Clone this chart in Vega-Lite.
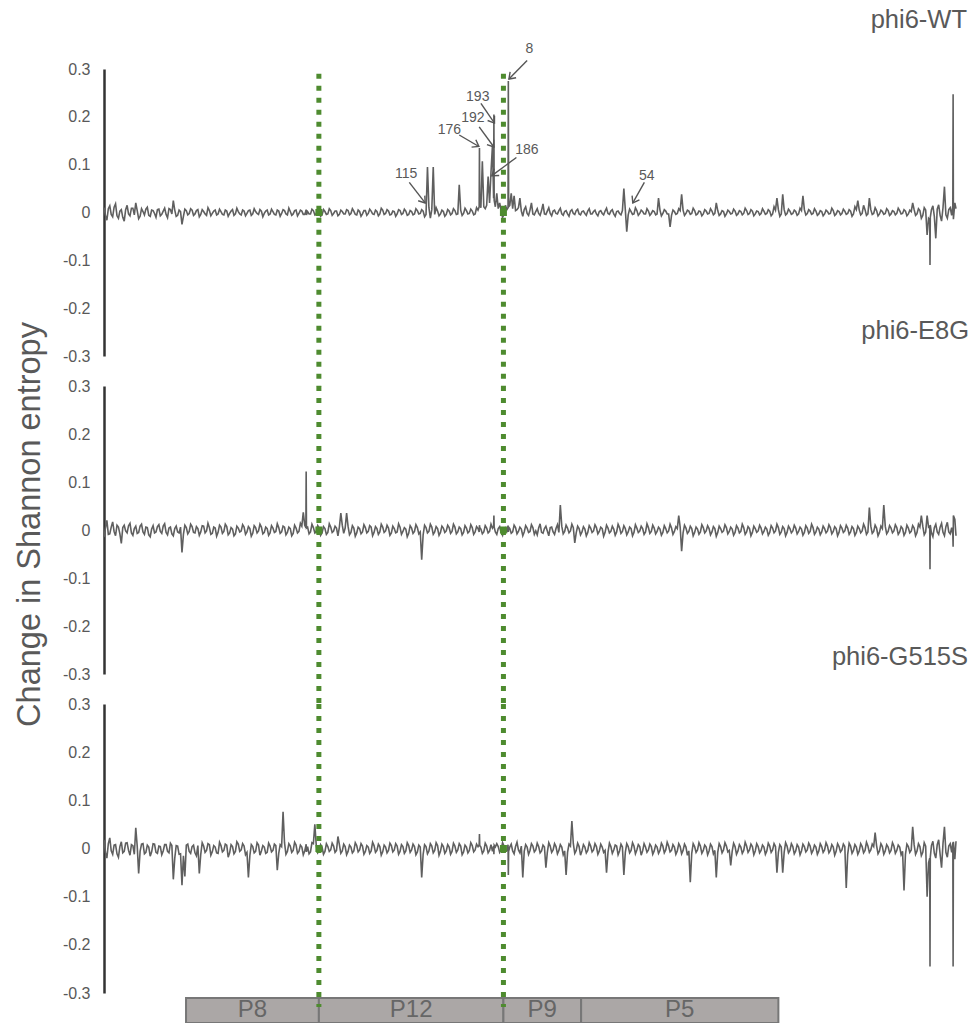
{
"$schema": "https://vega.github.io/schema/vega-lite/v6.json",
"padding": {"left": 13, "top": 8, "right": 5, "bottom": 5},
"background": "white",
"config": {"view": {"stroke": null}, "font": "Liberation Sans"},
"bounds": "flush",
"spacing": 30,
"datasets": {
"s": [
{"x":0,"a":0.010,"b":-0.015,"c":0.018},
{"x":10,"a":-0.016,"b":0.020,"c":-0.020},
{"x":20,"a":0.014,"b":-0.008,"c":0.022},
{"x":30,"a":-0.009,"b":0.017,"c":-0.012},
{"x":40,"a":0.018,"b":-0.012,"c":0.008},
{"x":50,"a":-0.012,"b":0.006,"c":-0.018},
{"x":60,"a":0.006,"b":-0.028,"c":0.014},
{"x":70,"a":-0.018,"b":0.010,"c":-0.006},
{"x":80,"a":0.015,"b":-0.006,"c":0.012},
{"x":90,"a":-0.007,"b":0.014,"c":-0.014},
{"x":100,"a":0.009,"b":-0.011,"c":0.006},
{"x":110,"a":0.020,"b":0.008,"c":0.043},
{"x":120,"a":-0.013,"b":-0.005,"c":-0.052},
{"x":130,"a":0.008,"b":0.012,"c":0.009},
{"x":140,"a":-0.005,"b":-0.009,"c":-0.011},
{"x":150,"a":0.011,"b":0.005,"c":0.007},
{"x":160,"a":-0.008,"b":-0.014,"c":-0.016},
{"x":170,"a":0.004,"b":0.009,"c":0.010},
{"x":180,"a":-0.010,"b":-0.004,"c":-0.008},
{"x":190,"a":0.007,"b":0.011,"c":0.005},
{"x":200,"a":-0.004,"b":-0.007,"c":-0.013},
{"x":210,"a":0.009,"b":0.013,"c":0.008},
{"x":220,"a":-0.011,"b":-0.010,"c":-0.006},
{"x":230,"a":0.006,"b":0.006,"c":0.011},
{"x":240,"a":0.025,"b":-0.012,"c":-0.064},
{"x":250,"a":-0.008,"b":0.008,"c":0.006},
{"x":260,"a":0.005,"b":-0.006,"c":-0.012},
{"x":270,"a":-0.025,"b":-0.047,"c":-0.076},
{"x":280,"a":0.007,"b":0.010,"c":-0.058},
{"x":290,"a":-0.005,"b":-0.008,"c":0.009},
{"x":300,"a":0.008,"b":0.012,"c":-0.010},
{"x":310,"a":-0.006,"b":-0.005,"c":0.007},
{"x":320,"a":0.004,"b":0.007,"c":-0.015},
{"x":330,"a":-0.009,"b":-0.011,"c":-0.052},
{"x":340,"a":0.006,"b":0.009,"c":0.012},
{"x":350,"a":-0.003,"b":-0.006,"c":-0.008},
{"x":360,"a":0.010,"b":0.014,"c":0.010},
{"x":370,"a":-0.007,"b":-0.009,"c":-0.014},
{"x":380,"a":0.003,"b":0.006,"c":0.006},
{"x":390,"a":-0.005,"b":-0.013,"c":-0.009},
{"x":400,"a":0.007,"b":0.010,"c":0.013},
{"x":410,"a":-0.004,"b":-0.007,"c":-0.007},
{"x":420,"a":0.005,"b":0.012,"c":0.009},
{"x":430,"a":-0.008,"b":-0.010,"c":-0.018},
{"x":440,"a":0.003,"b":0.005,"c":0.008},
{"x":450,"a":-0.006,"b":-0.012,"c":-0.011},
{"x":460,"a":0.009,"b":0.008,"c":0.014},
{"x":470,"a":-0.003,"b":-0.004,"c":-0.006},
{"x":480,"a":0.005,"b":0.011,"c":0.010},
{"x":490,"a":-0.007,"b":-0.009,"c":-0.013},
{"x":500,"a":0.004,"b":0.007,"c":-0.060},
{"x":510,"a":-0.006,"b":-0.013,"c":0.008},
{"x":520,"a":0.008,"b":0.009,"c":-0.009},
{"x":530,"a":-0.002,"b":-0.006,"c":0.012},
{"x":540,"a":0.006,"b":0.012,"c":-0.014},
{"x":550,"a":-0.009,"b":-0.008,"c":0.006},
{"x":560,"a":0.003,"b":0.006,"c":-0.010},
{"x":570,"a":-0.005,"b":-0.011,"c":0.011},
{"x":580,"a":0.007,"b":0.009,"c":-0.007},
{"x":590,"a":-0.004,"b":-0.005,"c":0.009},
{"x":600,"a":0.005,"b":0.013,"c":-0.045},
{"x":610,"a":-0.008,"b":-0.007,"c":0.008},
{"x":620,"a":0.006,"b":0.008,"c":0.076},
{"x":630,"a":-0.003,"b":-0.010,"c":-0.012},
{"x":640,"a":0.009,"b":0.006,"c":0.010},
{"x":650,"a":-0.006,"b":-0.012,"c":-0.008},
{"x":660,"a":0.004,"b":0.010,"c":0.013},
{"x":670,"a":-0.007,"b":-0.006,"c":-0.010},
{"x":680,"a":0.005,"b":0.014,"c":0.007},
{"x":690,"a":-0.004,"b":0.037,"c":-0.013},
{"x":699,"a":0.003,"b":0.005,"c":0.006},
{"x":700,"a":0.006,"b":0.122,"c":0.009},
{"x":701,"a":-0.005,"b":0.004,"c":-0.007},
{"x":710,"a":-0.003,"b":-0.008,"c":-0.011},
{"x":720,"a":0.007,"b":0.012,"c":0.012},
{"x":730,"a":-0.005,"b":-0.006,"c":0.050},
{"x":740,"a":0.004,"b":0.009,"c":-0.009},
{"x":750,"a":-0.008,"b":-0.011,"c":0.008},
{"x":760,"a":0.006,"b":0.007,"c":-0.012},
{"x":770,"a":-0.004,"b":-0.009,"c":0.010},
{"x":780,"a":0.008,"b":0.013,"c":-0.006},
{"x":790,"a":-0.006,"b":-0.005,"c":0.011},
{"x":800,"a":0.003,"b":0.008,"c":-0.008},
{"x":810,"a":-0.007,"b":-0.012,"c":0.025},
{"x":820,"a":0.005,"b":0.035,"c":-0.010},
{"x":830,"a":-0.003,"b":-0.007,"c":0.009},
{"x":840,"a":0.006,"b":0.035,"c":-0.013},
{"x":850,"a":-0.005,"b":-0.010,"c":0.007},
{"x":860,"a":0.008,"b":0.009,"c":-0.009},
{"x":870,"a":-0.004,"b":-0.013,"c":0.012},
{"x":880,"a":0.005,"b":0.006,"c":-0.007},
{"x":890,"a":-0.008,"b":-0.008,"c":0.010},
{"x":900,"a":0.004,"b":0.011,"c":-0.012},
{"x":910,"a":-0.006,"b":-0.006,"c":0.006},
{"x":920,"a":0.007,"b":0.009,"c":-0.010},
{"x":930,"a":-0.003,"b":-0.012,"c":0.013},
{"x":940,"a":0.005,"b":0.007,"c":-0.008},
{"x":950,"a":-0.007,"b":-0.009,"c":0.009},
{"x":960,"a":0.009,"b":0.012,"c":-0.014},
{"x":970,"a":-0.004,"b":-0.005,"c":0.007},
{"x":980,"a":0.006,"b":0.010,"c":-0.009},
{"x":990,"a":-0.005,"b":-0.011,"c":0.011},
{"x":1000,"a":0.003,"b":0.008,"c":-0.007},
{"x":1010,"a":-0.008,"b":-0.006,"c":0.010},
{"x":1020,"a":0.006,"b":0.013,"c":-0.012},
{"x":1030,"a":-0.004,"b":-0.009,"c":0.008},
{"x":1040,"a":0.007,"b":0.005,"c":-0.010},
{"x":1050,"a":-0.006,"b":-0.014,"c":0.012},
{"x":1060,"a":0.004,"b":0.009,"c":-0.008},
{"x":1070,"a":-0.005,"b":-0.007,"c":0.009},
{"x":1080,"a":0.008,"b":0.011,"c":-0.013},
{"x":1090,"a":-0.003,"b":-0.008,"c":0.007},
{"x":1100,"a":0.006,"b":-0.062,"c":-0.060},
{"x":1110,"a":-0.009,"b":0.010,"c":0.008},
{"x":1120,"a":0.095,"b":-0.006,"c":-0.011},
{"x":1130,"a":-0.012,"b":0.012,"c":0.010},
{"x":1140,"a":0.095,"b":-0.009,"c":-0.009},
{"x":1150,"a":0.010,"b":0.007,"c":0.012},
{"x":1160,"a":-0.007,"b":-0.011,"c":-0.014},
{"x":1170,"a":0.005,"b":0.008,"c":0.009},
{"x":1180,"a":-0.008,"b":-0.005,"c":-0.010},
{"x":1190,"a":0.006,"b":0.010,"c":0.008},
{"x":1200,"a":-0.005,"b":-0.007,"c":-0.012},
{"x":1210,"a":0.008,"b":0.012,"c":0.011},
{"x":1220,"a":-0.004,"b":-0.008,"c":-0.008},
{"x":1230,"a":0.058,"b":0.006,"c":0.010},
{"x":1240,"a":-0.006,"b":-0.010,"c":-0.013},
{"x":1250,"a":0.009,"b":0.009,"c":0.007},
{"x":1260,"a":-0.003,"b":-0.006,"c":-0.009},
{"x":1270,"a":0.007,"b":0.011,"c":0.012},
{"x":1280,"a":-0.005,"b":-0.009,"c":-0.007},
{"x":1290,"a":0.010,"b":0.007,"c":0.009},
{"x":1299,"a":0.012,"b":-0.004,"c":0.008},
{"x":1300,"a":0.135,"b":0.010,"c":0.030},
{"x":1301,"a":0.020,"b":0.005,"c":0.006},
{"x":1310,"a":0.107,"b":-0.008,"c":-0.010},
{"x":1320,"a":0.008,"b":0.009,"c":0.011},
{"x":1330,"a":0.075,"b":-0.006,"c":-0.009},
{"x":1340,"a":0.085,"b":0.012,"c":0.008},
{"x":1345,"a":0.140,"b":0.004,"c":-0.006},
{"x":1349,"a":0.030,"b":0.008,"c":0.005},
{"x":1350,"a":0.205,"b":0.030,"c":-0.012},
{"x":1351,"a":0.025,"b":0.006,"c":0.007},
{"x":1360,"a":0.040,"b":-0.009,"c":0.010},
{"x":1370,"a":0.020,"b":0.007,"c":-0.008},
{"x":1380,"a":-0.010,"b":-0.011,"c":0.012},
{"x":1390,"a":0.015,"b":0.005,"c":-0.006},
{"x":1399,"a":0.010,"b":0.009,"c":0.008},
{"x":1400,"a":0.275,"b":-0.004,"c":-0.055},
{"x":1401,"a":0.012,"b":0.006,"c":-0.006},
{"x":1410,"a":0.040,"b":-0.007,"c":0.009},
{"x":1420,"a":0.035,"b":0.010,"c":-0.011},
{"x":1430,"a":0.006,"b":-0.008,"c":0.013},
{"x":1440,"a":0.030,"b":0.006,"c":-0.009},
{"x":1450,"a":-0.008,"b":-0.012,"c":-0.060},
{"x":1460,"a":0.012,"b":0.009,"c":0.008},
{"x":1470,"a":-0.006,"b":-0.005,"c":-0.012},
{"x":1480,"a":0.020,"b":0.011,"c":0.010},
{"x":1490,"a":-0.005,"b":-0.009,"c":-0.007},
{"x":1500,"a":0.008,"b":-0.010,"c":0.011},
{"x":1510,"a":-0.006,"b":0.013,"c":-0.009},
{"x":1520,"a":0.018,"b":-0.007,"c":0.007},
{"x":1530,"a":-0.004,"b":0.008,"c":-0.040},
{"x":1540,"a":0.010,"b":-0.012,"c":0.012},
{"x":1550,"a":-0.007,"b":0.006,"c":-0.008},
{"x":1560,"a":0.005,"b":-0.009,"c":0.010},
{"x":1570,"a":-0.003,"b":0.011,"c":-0.011},
{"x":1580,"a":0.009,"b":0.052,"c":0.008},
{"x":1590,"a":-0.006,"b":-0.008,"c":-0.013},
{"x":1600,"a":0.004,"b":0.010,"c":-0.055},
{"x":1610,"a":-0.008,"b":-0.006,"c":0.009},
{"x":1620,"a":0.006,"b":0.012,"c":0.057},
{"x":1630,"a":-0.004,"b":-0.027,"c":-0.010},
{"x":1640,"a":0.007,"b":0.008,"c":0.011},
{"x":1650,"a":-0.005,"b":-0.010,"c":-0.014},
{"x":1660,"a":0.003,"b":0.007,"c":0.008},
{"x":1670,"a":-0.006,"b":-0.012,"c":-0.009},
{"x":1680,"a":0.008,"b":0.009,"c":0.012},
{"x":1690,"a":-0.003,"b":-0.005,"c":-0.007},
{"x":1700,"a":0.005,"b":0.011,"c":0.010},
{"x":1710,"a":-0.007,"b":-0.008,"c":-0.012},
{"x":1720,"a":0.004,"b":0.006,"c":0.009},
{"x":1730,"a":-0.005,"b":-0.013,"c":-0.008},
{"x":1740,"a":0.009,"b":0.010,"c":-0.050},
{"x":1750,"a":-0.004,"b":-0.006,"c":0.011},
{"x":1760,"a":0.006,"b":0.008,"c":-0.010},
{"x":1770,"a":-0.008,"b":-0.011,"c":0.007},
{"x":1780,"a":0.003,"b":0.012,"c":-0.013},
{"x":1790,"a":-0.005,"b":-0.007,"c":0.009},
{"x":1800,"a":0.050,"b":0.009,"c":-0.055},
{"x":1810,"a":-0.040,"b":-0.010,"c":0.010},
{"x":1820,"a":0.007,"b":0.006,"c":-0.009},
{"x":1830,"a":-0.004,"b":-0.012,"c":0.012},
{"x":1840,"a":0.010,"b":0.011,"c":-0.011},
{"x":1850,"a":-0.006,"b":-0.005,"c":0.008},
{"x":1860,"a":0.005,"b":0.008,"c":-0.014},
{"x":1870,"a":-0.003,"b":-0.009,"c":0.010},
{"x":1880,"a":0.008,"b":0.013,"c":-0.008},
{"x":1890,"a":-0.006,"b":-0.007,"c":0.009},
{"x":1900,"a":0.004,"b":0.010,"c":-0.012},
{"x":1910,"a":-0.005,"b":-0.008,"c":0.007},
{"x":1920,"a":0.030,"b":0.006,"c":-0.010},
{"x":1930,"a":-0.007,"b":-0.011,"c":0.011},
{"x":1940,"a":0.006,"b":0.009,"c":-0.009},
{"x":1950,"a":-0.003,"b":-0.006,"c":0.013},
{"x":1960,"a":-0.030,"b":0.012,"c":-0.007},
{"x":1970,"a":0.005,"b":-0.009,"c":0.008},
{"x":1980,"a":-0.004,"b":0.007,"c":-0.012},
{"x":1990,"a":0.008,"b":0.030,"c":0.010},
{"x":2000,"a":0.038,"b":-0.044,"c":-0.011},
{"x":2010,"a":-0.006,"b":0.010,"c":0.009},
{"x":2020,"a":0.005,"b":-0.007,"c":-0.014},
{"x":2030,"a":-0.004,"b":0.008,"c":-0.070},
{"x":2040,"a":0.009,"b":-0.012,"c":0.010},
{"x":2050,"a":-0.005,"b":0.006,"c":-0.008},
{"x":2060,"a":0.003,"b":-0.009,"c":0.012},
{"x":2070,"a":-0.007,"b":0.011,"c":-0.010},
{"x":2080,"a":0.006,"b":-0.006,"c":0.007},
{"x":2090,"a":-0.003,"b":0.009,"c":-0.013},
{"x":2100,"a":0.008,"b":-0.010,"c":0.009},
{"x":2110,"a":-0.005,"b":0.007,"c":-0.011},
{"x":2120,"a":0.020,"b":-0.013,"c":-0.060},
{"x":2130,"a":-0.006,"b":0.008,"c":0.010},
{"x":2140,"a":0.004,"b":-0.005,"c":-0.009},
{"x":2150,"a":-0.008,"b":0.011,"c":0.012},
{"x":2160,"a":0.005,"b":-0.008,"c":-0.007},
{"x":2170,"a":-0.003,"b":0.006,"c":-0.035},
{"x":2180,"a":0.007,"b":-0.011,"c":0.011},
{"x":2190,"a":-0.006,"b":0.009,"c":-0.012},
{"x":2200,"a":0.004,"b":-0.006,"c":0.008},
{"x":2210,"a":-0.005,"b":0.012,"c":-0.010},
{"x":2220,"a":0.009,"b":-0.009,"c":0.013},
{"x":2230,"a":-0.004,"b":0.007,"c":-0.008},
{"x":2240,"a":0.006,"b":-0.012,"c":0.009},
{"x":2250,"a":-0.007,"b":0.008,"c":-0.013},
{"x":2260,"a":0.003,"b":-0.005,"c":0.010},
{"x":2270,"a":-0.005,"b":0.010,"c":-0.009},
{"x":2280,"a":0.008,"b":-0.008,"c":0.007},
{"x":2290,"a":-0.004,"b":0.006,"c":-0.012},
{"x":2300,"a":0.006,"b":-0.011,"c":0.011},
{"x":2310,"a":-0.007,"b":0.009,"c":-0.008},
{"x":2320,"a":0.012,"b":-0.006,"c":0.010},
{"x":2330,"a":0.030,"b":0.012,"c":-0.050},
{"x":2340,"a":-0.008,"b":-0.009,"c":0.008},
{"x":2350,"a":0.038,"b":0.007,"c":-0.050},
{"x":2360,"a":-0.005,"b":-0.012,"c":0.012},
{"x":2370,"a":0.007,"b":0.008,"c":-0.009},
{"x":2380,"a":-0.004,"b":-0.006,"c":0.010},
{"x":2390,"a":0.005,"b":0.010,"c":-0.011},
{"x":2400,"a":-0.006,"b":-0.008,"c":0.008},
{"x":2410,"a":0.009,"b":0.006,"c":-0.013},
{"x":2420,"a":0.035,"b":-0.011,"c":0.009},
{"x":2430,"a":-0.005,"b":0.009,"c":-0.007},
{"x":2440,"a":0.006,"b":-0.007,"c":0.011},
{"x":2450,"a":-0.004,"b":0.012,"c":-0.010},
{"x":2460,"a":0.008,"b":-0.009,"c":0.007},
{"x":2470,"a":-0.006,"b":0.006,"c":-0.012},
{"x":2480,"a":0.004,"b":-0.010,"c":0.010},
{"x":2490,"a":-0.007,"b":0.008,"c":-0.008},
{"x":2500,"a":0.005,"b":-0.006,"c":0.012},
{"x":2510,"a":-0.003,"b":0.011,"c":-0.009},
{"x":2520,"a":0.009,"b":-0.008,"c":0.008},
{"x":2530,"a":-0.006,"b":0.007,"c":-0.014},
{"x":2540,"a":0.004,"b":-0.012,"c":0.010},
{"x":2550,"a":-0.005,"b":0.009,"c":-0.007},
{"x":2560,"a":0.007,"b":-0.005,"c":0.009},
{"x":2570,"a":-0.004,"b":0.010,"c":-0.082},
{"x":2580,"a":0.006,"b":-0.009,"c":0.011},
{"x":2590,"a":-0.008,"b":0.007,"c":-0.010},
{"x":2600,"a":0.012,"b":-0.011,"c":0.008},
{"x":2610,"a":0.025,"b":0.008,"c":-0.012},
{"x":2620,"a":-0.005,"b":-0.006,"c":0.010},
{"x":2630,"a":0.015,"b":0.012,"c":-0.009},
{"x":2640,"a":-0.006,"b":-0.009,"c":0.013},
{"x":2650,"a":0.030,"b":0.047,"c":-0.008},
{"x":2660,"a":-0.004,"b":-0.007,"c":0.009},
{"x":2670,"a":0.010,"b":0.010,"c":0.033},
{"x":2680,"a":-0.007,"b":-0.012,"c":-0.011},
{"x":2690,"a":0.005,"b":0.008,"c":0.010},
{"x":2700,"a":-0.004,"b":0.052,"c":-0.012},
{"x":2710,"a":0.008,"b":-0.008,"c":0.008},
{"x":2720,"a":-0.006,"b":0.009,"c":-0.009},
{"x":2730,"a":0.004,"b":-0.006,"c":0.012},
{"x":2740,"a":-0.005,"b":0.011,"c":-0.010},
{"x":2750,"a":0.009,"b":-0.009,"c":0.007},
{"x":2760,"a":-0.003,"b":0.007,"c":-0.013},
{"x":2770,"a":0.006,"b":-0.011,"c":-0.087},
{"x":2780,"a":-0.007,"b":0.010,"c":0.009},
{"x":2790,"a":0.005,"b":-0.006,"c":-0.008},
{"x":2800,"a":0.020,"b":0.009,"c":0.045},
{"x":2810,"a":-0.006,"b":-0.012,"c":-0.012},
{"x":2820,"a":0.008,"b":0.012,"c":0.010},
{"x":2830,"a":-0.012,"b":0.030,"c":-0.015},
{"x":2840,"a":0.010,"b":-0.010,"c":0.012},
{"x":2850,"a":-0.047,"b":0.030,"c":-0.100},
{"x":2859,"a":-0.015,"b":0.008,"c":-0.020},
{"x":2860,"a":-0.110,"b":-0.082,"c":-0.245},
{"x":2861,"a":-0.010,"b":0.010,"c":-0.018},
{"x":2870,"a":0.014,"b":-0.014,"c":0.015},
{"x":2880,"a":-0.054,"b":0.012,"c":-0.020},
{"x":2890,"a":0.016,"b":-0.009,"c":0.018},
{"x":2900,"a":-0.018,"b":0.014,"c":-0.040},
{"x":2910,"a":0.054,"b":-0.012,"c":0.045},
{"x":2920,"a":-0.012,"b":0.016,"c":-0.018},
{"x":2930,"a":0.010,"b":-0.008,"c":0.010},
{"x":2939,"a":0.015,"b":-0.010,"c":0.012},
{"x":2940,"a":0.247,"b":-0.035,"c":-0.245},
{"x":2941,"a":-0.014,"b":0.030,"c":0.014},
{"x":2946,"a":0.020,"b":0.022,"c":-0.022},
{"x":2950,"a":0.008,"b":-0.012,"c":0.015},
{"x":5,"a":-0.006,"b":0.004,"c":-0.008},
{"x":15,"a":0.008,"b":-0.009,"c":0.010},
{"x":25,"a":-0.004,"b":0.006,"c":-0.005},
{"x":35,"a":0.011,"b":-0.003,"c":0.007},
{"x":45,"a":-0.007,"b":0.010,"c":-0.011},
{"x":55,"a":0.003,"b":-0.008,"c":0.004},
{"x":65,"a":-0.010,"b":0.005,"c":-0.009},
{"x":75,"a":0.006,"b":-0.002,"c":0.011},
{"x":85,"a":-0.003,"b":0.009,"c":-0.004},
{"x":95,"a":0.009,"b":-0.006,"c":0.008},
{"x":105,"a":-0.005,"b":0.003,"c":-0.012},
{"x":115,"a":0.004,"b":-0.007,"c":0.005},
{"x":125,"a":-0.008,"b":0.008,"c":-0.006},
{"x":135,"a":0.002,"b":-0.004,"c":0.010},
{"x":145,"a":0.007,"b":0.006,"c":-0.008},
{"x":155,"a":-0.006,"b":-0.010,"c":0.003},
{"x":165,"a":0.005,"b":0.002,"c":-0.007},
{"x":175,"a":-0.002,"b":-0.006,"c":0.009},
{"x":185,"a":0.006,"b":0.007,"c":-0.010},
{"x":195,"a":-0.007,"b":-0.003,"c":0.004},
{"x":205,"a":0.003,"b":0.008,"c":-0.005},
{"x":215,"a":-0.004,"b":-0.005,"c":0.008},
{"x":225,"a":0.008,"b":0.004,"c":-0.009},
{"x":235,"a":-0.003,"b":-0.008,"c":0.006},
{"x":245,"a":0.005,"b":0.003,"c":-0.020},
{"x":255,"a":-0.006,"b":-0.004,"c":0.005},
{"x":265,"a":0.002,"b":0.006,"c":-0.011},
{"x":275,"a":-0.008,"b":-0.009,"c":-0.015},
{"x":285,"a":0.004,"b":0.005,"c":0.007},
{"x":295,"a":-0.002,"b":-0.003,"c":-0.006},
{"x":305,"a":0.005,"b":0.007,"c":0.004},
{"x":315,"a":-0.003,"b":-0.006,"c":-0.009},
{"x":325,"a":0.006,"b":0.003,"c":0.006},
{"x":335,"a":-0.004,"b":-0.004,"c":-0.012},
{"x":345,"a":0.002,"b":0.008,"c":0.005},
{"x":355,"a":-0.006,"b":-0.002,"c":-0.004},
{"x":365,"a":0.004,"b":0.005,"c":0.008},
{"x":375,"a":-0.002,"b":-0.007,"c":-0.007},
{"x":385,"a":0.005,"b":0.004,"c":0.003},
{"x":395,"a":-0.003,"b":-0.005,"c":-0.010},
{"x":405,"a":0.002,"b":0.006,"c":0.006},
{"x":415,"a":-0.005,"b":-0.003,"c":-0.004},
{"x":425,"a":0.003,"b":0.007,"c":0.007},
{"x":435,"a":-0.002,"b":-0.006,"c":-0.009},
{"x":445,"a":0.006,"b":0.002,"c":0.004},
{"x":455,"a":-0.003,"b":-0.008,"c":-0.006},
{"x":465,"a":0.002,"b":0.004,"c":0.009},
{"x":475,"a":-0.005,"b":-0.002,"c":-0.003},
{"x":485,"a":0.003,"b":0.006,"c":0.005},
{"x":495,"a":-0.002,"b":-0.004,"c":-0.008},
{"x":505,"a":0.005,"b":0.003,"c":-0.015},
{"x":515,"a":-0.003,"b":-0.007,"c":0.004},
{"x":525,"a":0.002,"b":0.005,"c":-0.006},
{"x":535,"a":-0.004,"b":-0.002,"c":0.007},
{"x":545,"a":0.003,"b":0.006,"c":-0.005},
{"x":555,"a":-0.002,"b":-0.005,"c":0.003},
{"x":565,"a":0.005,"b":0.003,"c":-0.008},
{"x":575,"a":-0.003,"b":-0.006,"c":0.005},
{"x":585,"a":0.002,"b":0.004,"c":-0.004},
{"x":595,"a":-0.005,"b":-0.003,"c":0.006},
{"x":605,"a":0.003,"b":0.005,"c":-0.010},
{"x":615,"a":-0.002,"b":-0.004,"c":0.004},
{"x":625,"a":0.004,"b":0.006,"c":0.012},
{"x":635,"a":-0.005,"b":-0.005,"c":-0.006},
{"x":645,"a":0.002,"b":0.003,"c":0.005},
{"x":655,"a":-0.003,"b":-0.007,"c":-0.004},
{"x":665,"a":0.005,"b":0.004,"c":0.007},
{"x":675,"a":-0.002,"b":-0.003,"c":-0.006},
{"x":685,"a":0.003,"b":0.008,"c":0.003},
{"x":695,"a":-0.004,"b":0.010,"c":-0.005},
{"x":705,"a":0.002,"b":0.006,"c":0.004},
{"x":715,"a":-0.003,"b":-0.004,"c":-0.007},
{"x":725,"a":0.004,"b":0.005,"c":0.010},
{"x":735,"a":-0.002,"b":-0.003,"c":0.006},
{"x":745,"a":0.003,"b":0.004,"c":-0.005},
{"x":755,"a":-0.005,"b":-0.006,"c":0.003},
{"x":765,"a":0.002,"b":0.003,"c":-0.006},
{"x":775,"a":-0.003,"b":-0.005,"c":0.004},
{"x":785,"a":0.004,"b":0.006,"c":-0.003},
{"x":795,"a":-0.002,"b":-0.002,"c":0.005},
{"x":805,"a":0.003,"b":0.004,"c":-0.004},
{"x":815,"a":-0.004,"b":0.006,"c":0.008},
{"x":825,"a":0.002,"b":0.010,"c":-0.005},
{"x":835,"a":-0.003,"b":0.004,"c":0.004},
{"x":845,"a":0.004,"b":0.008,"c":-0.006},
{"x":855,"a":-0.002,"b":-0.005,"c":0.003},
{"x":865,"a":0.003,"b":0.004,"c":-0.005},
{"x":875,"a":-0.005,"b":-0.006,"c":0.006},
{"x":885,"a":0.002,"b":0.003,"c":-0.003},
{"x":895,"a":-0.003,"b":-0.004,"c":0.005},
{"x":905,"a":0.004,"b":0.005,"c":-0.006},
{"x":915,"a":-0.002,"b":-0.003,"c":0.003},
{"x":925,"a":0.003,"b":0.006,"c":-0.005},
{"x":935,"a":-0.004,"b":-0.005,"c":0.006},
{"x":945,"a":0.002,"b":0.003,"c":-0.004},
{"x":955,"a":-0.003,"b":-0.004,"c":0.004},
{"x":965,"a":0.005,"b":0.006,"c":-0.007},
{"x":975,"a":-0.002,"b":-0.002,"c":0.003},
{"x":985,"a":0.003,"b":0.004,"c":-0.004},
{"x":995,"a":-0.004,"b":-0.006,"c":0.006},
{"x":1005,"a":0.002,"b":0.003,"c":-0.003},
{"x":1015,"a":-0.003,"b":-0.004,"c":0.005},
{"x":1025,"a":0.004,"b":0.006,"c":-0.006},
{"x":1035,"a":-0.002,"b":-0.003,"c":0.004},
{"x":1045,"a":0.003,"b":0.002,"c":-0.005},
{"x":1055,"a":-0.004,"b":-0.007,"c":0.006},
{"x":1065,"a":0.002,"b":0.004,"c":-0.003},
{"x":1075,"a":-0.003,"b":-0.003,"c":0.004},
{"x":1085,"a":0.004,"b":0.005,"c":-0.007},
{"x":1095,"a":-0.002,"b":-0.004,"c":0.003},
{"x":1105,"a":0.003,"b":-0.010,"c":-0.012},
{"x":1115,"a":-0.004,"b":0.005,"c":0.004},
{"x":1125,"a":0.010,"b":-0.003,"c":-0.005},
{"x":1135,"a":0.006,"b":0.006,"c":0.005},
{"x":1145,"a":-0.004,"b":-0.004,"c":-0.004},
{"x":1155,"a":0.003,"b":0.003,"c":0.006},
{"x":1165,"a":-0.003,"b":-0.005,"c":-0.006},
{"x":1175,"a":0.002,"b":0.004,"c":0.004},
{"x":1185,"a":-0.004,"b":-0.002,"c":-0.005},
{"x":1195,"a":0.003,"b":0.005,"c":0.003},
{"x":1205,"a":-0.002,"b":-0.003,"c":-0.006},
{"x":1215,"a":0.004,"b":0.006,"c":0.005},
{"x":1225,"a":-0.003,"b":-0.004,"c":-0.003},
{"x":1235,"a":0.005,"b":0.003,"c":0.005},
{"x":1245,"a":-0.002,"b":-0.005,"c":-0.007},
{"x":1255,"a":0.004,"b":0.004,"c":0.003},
{"x":1265,"a":-0.002,"b":-0.003,"c":-0.004},
{"x":1275,"a":0.003,"b":0.005,"c":0.006},
{"x":1285,"a":-0.003,"b":-0.004,"c":-0.003},
{"x":1295,"a":0.005,"b":0.003,"c":0.004},
{"x":1305,"a":0.010,"b":0.002,"c":0.003},
{"x":1315,"a":0.012,"b":-0.004,"c":-0.005},
{"x":1325,"a":0.015,"b":0.004,"c":0.005},
{"x":1335,"a":0.020,"b":-0.003,"c":-0.004},
{"x":1355,"a":0.012,"b":-0.004,"c":0.003},
{"x":1365,"a":0.008,"b":0.003,"c":0.004},
{"x":1375,"a":0.005,"b":-0.005,"c":-0.003},
{"x":1385,"a":-0.004,"b":0.003,"c":0.005},
{"x":1395,"a":0.006,"b":-0.002,"c":-0.004},
{"x":1405,"a":0.015,"b":0.003,"c":0.003},
{"x":1415,"a":0.008,"b":-0.004,"c":-0.005},
{"x":1425,"a":0.004,"b":0.005,"c":0.004},
{"x":1435,"a":0.010,"b":-0.003,"c":-0.003},
{"x":1445,"a":0.003,"b":0.002,"c":0.005},
{"x":1455,"a":0.006,"b":-0.004,"c":-0.006},
{"x":1465,"a":-0.002,"b":0.004,"c":0.003},
{"x":1475,"a":0.005,"b":-0.003,"c":-0.004},
{"x":1485,"a":-0.003,"b":0.005,"c":0.005},
{"x":1495,"a":0.002,"b":-0.002,"c":-0.003},
{"x":1505,"a":-0.002,"b":0.004,"c":0.004},
{"x":1515,"a":0.004,"b":-0.005,"c":-0.005},
{"x":1525,"a":-0.003,"b":0.003,"c":0.003},
{"x":1535,"a":0.003,"b":-0.002,"c":-0.008},
{"x":1545,"a":-0.002,"b":0.005,"c":0.005},
{"x":1555,"a":0.003,"b":-0.004,"c":-0.003},
{"x":1565,"a":-0.002,"b":0.003,"c":0.004},
{"x":1575,"a":0.004,"b":-0.005,"c":-0.004},
{"x":1585,"a":-0.003,"b":0.008,"c":0.003},
{"x":1595,"a":0.002,"b":-0.003,"c":-0.005},
{"x":1605,"a":-0.003,"b":0.004,"c":-0.008},
{"x":1615,"a":0.003,"b":-0.002,"c":0.005},
{"x":1625,"a":-0.002,"b":0.005,"c":0.010},
{"x":1635,"a":0.004,"b":-0.006,"c":-0.004},
{"x":1645,"a":-0.003,"b":0.003,"c":0.004},
{"x":1655,"a":0.002,"b":-0.004,"c":-0.005},
{"x":1665,"a":-0.002,"b":0.002,"c":0.003},
{"x":1675,"a":0.003,"b":-0.005,"c":-0.004},
{"x":1685,"a":-0.003,"b":0.004,"c":0.005},
{"x":1695,"a":0.002,"b":-0.002,"c":-0.003},
{"x":1705,"a":-0.003,"b":0.005,"c":0.004},
{"x":1715,"a":0.002,"b":-0.003,"c":-0.005},
{"x":1725,"a":-0.002,"b":0.003,"c":0.003},
{"x":1735,"a":0.003,"b":-0.005,"c":-0.004},
{"x":1745,"a":-0.002,"b":0.004,"c":-0.008},
{"x":1755,"a":0.003,"b":-0.003,"c":0.004},
{"x":1765,"a":-0.003,"b":0.002,"c":-0.003},
{"x":1775,"a":0.002,"b":-0.004,"c":0.005},
{"x":1785,"a":-0.002,"b":0.005,"c":-0.005},
{"x":1795,"a":0.004,"b":-0.003,"c":0.003},
{"x":1805,"a":0.006,"b":0.003,"c":-0.008},
{"x":1815,"a":-0.005,"b":-0.004,"c":0.004},
{"x":1825,"a":0.002,"b":0.003,"c":-0.004},
{"x":1835,"a":-0.003,"b":-0.005,"c":0.005},
{"x":1845,"a":0.004,"b":0.004,"c":-0.003},
{"x":1855,"a":-0.002,"b":-0.002,"c":0.004},
{"x":1865,"a":0.002,"b":0.003,"c":-0.005},
{"x":1875,"a":-0.003,"b":-0.004,"c":0.003},
{"x":1885,"a":0.003,"b":0.005,"c":-0.003},
{"x":1895,"a":-0.002,"b":-0.003,"c":0.004},
{"x":1905,"a":0.002,"b":0.004,"c":-0.005},
{"x":1915,"a":-0.003,"b":-0.003,"c":0.003},
{"x":1925,"a":0.005,"b":0.002,"c":-0.004},
{"x":1935,"a":-0.002,"b":-0.005,"c":0.005},
{"x":1945,"a":0.003,"b":0.003,"c":-0.003},
{"x":1955,"a":-0.003,"b":-0.002,"c":0.005},
{"x":1965,"a":-0.006,"b":0.004,"c":-0.004},
{"x":1975,"a":0.002,"b":-0.003,"c":0.003},
{"x":1985,"a":-0.002,"b":0.003,"c":-0.005},
{"x":1995,"a":0.004,"b":0.006,"c":0.004},
{"x":2005,"a":0.005,"b":-0.006,"c":-0.004},
{"x":2015,"a":-0.002,"b":0.004,"c":0.003},
{"x":2025,"a":0.003,"b":-0.003,"c":-0.005},
{"x":2035,"a":-0.002,"b":0.003,"c":-0.010},
{"x":2045,"a":0.004,"b":-0.005,"c":0.004},
{"x":2055,"a":-0.003,"b":0.002,"c":-0.003},
{"x":2065,"a":0.002,"b":-0.004,"c":0.005},
{"x":2075,"a":-0.003,"b":0.005,"c":-0.004},
{"x":2085,"a":0.003,"b":-0.002,"c":0.003},
{"x":2095,"a":-0.002,"b":0.003,"c":-0.005},
{"x":2105,"a":0.003,"b":-0.004,"c":0.004},
{"x":2115,"a":-0.002,"b":0.003,"c":-0.004},
{"x":2125,"a":0.004,"b":-0.005,"c":-0.008},
{"x":2135,"a":-0.003,"b":0.003,"c":0.004},
{"x":2145,"a":0.002,"b":-0.002,"c":-0.003},
{"x":2155,"a":-0.003,"b":0.005,"c":0.005},
{"x":2165,"a":0.002,"b":-0.003,"c":-0.004},
{"x":2175,"a":-0.002,"b":0.002,"c":-0.006},
{"x":2185,"a":0.003,"b":-0.005,"c":0.004},
{"x":2195,"a":-0.003,"b":0.004,"c":-0.005},
{"x":2205,"a":0.002,"b":-0.003,"c":0.003},
{"x":2215,"a":-0.002,"b":0.005,"c":-0.004},
{"x":2225,"a":0.004,"b":-0.004,"c":0.005},
{"x":2235,"a":-0.002,"b":0.003,"c":-0.003},
{"x":2245,"a":0.003,"b":-0.005,"c":0.004},
{"x":2255,"a":-0.003,"b":0.003,"c":-0.005},
{"x":2265,"a":0.002,"b":-0.002,"c":0.004},
{"x":2275,"a":-0.002,"b":0.004,"c":-0.004},
{"x":2285,"a":0.003,"b":-0.003,"c":0.003},
{"x":2295,"a":-0.002,"b":0.002,"c":-0.005},
{"x":2305,"a":0.003,"b":-0.005,"c":0.005},
{"x":2315,"a":-0.003,"b":0.004,"c":-0.003},
{"x":2325,"a":0.005,"b":-0.002,"c":0.004},
{"x":2335,"a":0.006,"b":0.005,"c":-0.008},
{"x":2345,"a":-0.003,"b":-0.004,"c":0.003},
{"x":2355,"a":0.006,"b":0.003,"c":-0.008},
{"x":2365,"a":-0.002,"b":-0.005,"c":0.005},
{"x":2375,"a":0.003,"b":0.003,"c":-0.004},
{"x":2385,"a":-0.002,"b":-0.002,"c":0.004},
{"x":2395,"a":0.002,"b":0.004,"c":-0.005},
{"x":2405,"a":-0.003,"b":-0.003,"c":0.003},
{"x":2415,"a":0.004,"b":0.002,"c":-0.005},
{"x":2425,"a":0.006,"b":-0.005,"c":0.004},
{"x":2435,"a":-0.002,"b":0.004,"c":-0.003},
{"x":2445,"a":0.003,"b":-0.003,"c":0.005},
{"x":2455,"a":-0.002,"b":0.005,"c":-0.004},
{"x":2465,"a":0.003,"b":-0.004,"c":0.003},
{"x":2475,"a":-0.003,"b":0.002,"c":-0.005},
{"x":2485,"a":0.002,"b":-0.004,"c":0.004},
{"x":2495,"a":-0.003,"b":0.003,"c":-0.003},
{"x":2505,"a":0.002,"b":-0.002,"c":0.005},
{"x":2515,"a":-0.002,"b":0.005,"c":-0.004},
{"x":2525,"a":0.004,"b":-0.003,"c":0.003},
{"x":2535,"a":-0.003,"b":0.003,"c":-0.006},
{"x":2545,"a":0.002,"b":-0.005,"c":0.004},
{"x":2555,"a":-0.002,"b":0.004,"c":-0.003},
{"x":2565,"a":0.003,"b":-0.002,"c":0.004},
{"x":2575,"a":-0.002,"b":0.004,"c":-0.012},
{"x":2585,"a":0.003,"b":-0.004,"c":0.005},
{"x":2595,"a":-0.003,"b":0.003,"c":-0.004},
{"x":2605,"a":0.006,"b":-0.005,"c":0.003},
{"x":2615,"a":0.005,"b":0.003,"c":-0.005},
{"x":2625,"a":-0.002,"b":-0.002,"c":0.004},
{"x":2635,"a":0.006,"b":0.005,"c":-0.004},
{"x":2645,"a":-0.003,"b":-0.004,"c":0.005},
{"x":2655,"a":0.006,"b":0.008,"c":-0.003},
{"x":2665,"a":-0.002,"b":-0.003,"c":0.004},
{"x":2675,"a":0.004,"b":0.004,"c":0.006},
{"x":2685,"a":-0.003,"b":-0.005,"c":-0.005},
{"x":2695,"a":0.002,"b":0.003,"c":0.004},
{"x":2705,"a":-0.002,"b":0.008,"c":-0.005},
{"x":2715,"a":0.004,"b":-0.003,"c":0.003},
{"x":2725,"a":-0.003,"b":0.004,"c":-0.004},
{"x":2735,"a":0.002,"b":-0.002,"c":0.005},
{"x":2745,"a":-0.002,"b":0.005,"c":-0.004},
{"x":2755,"a":0.004,"b":-0.004,"c":0.003},
{"x":2765,"a":-0.002,"b":0.003,"c":-0.006},
{"x":2775,"a":0.003,"b":-0.005,"c":-0.012},
{"x":2785,"a":-0.003,"b":0.004,"c":0.004},
{"x":2795,"a":0.002,"b":-0.003,"c":-0.003},
{"x":2805,"a":0.006,"b":0.004,"c":0.008},
{"x":2815,"a":-0.003,"b":-0.005,"c":-0.005},
{"x":2825,"a":0.004,"b":0.006,"c":0.004},
{"x":2835,"a":-0.006,"b":0.008,"c":-0.008},
{"x":2845,"a":0.005,"b":-0.004,"c":0.005},
{"x":2855,"a":-0.012,"b":0.006,"c":-0.030},
{"x":2865,"a":0.006,"b":-0.006,"c":0.006},
{"x":2875,"a":-0.008,"b":0.005,"c":-0.010},
{"x":2885,"a":0.007,"b":-0.004,"c":0.008},
{"x":2895,"a":-0.006,"b":0.006,"c":-0.012},
{"x":2905,"a":0.010,"b":-0.005,"c":0.010},
{"x":2915,"a":-0.005,"b":0.007,"c":-0.008},
{"x":2925,"a":0.006,"b":-0.004,"c":0.005},
{"x":2935,"a":-0.006,"b":0.005,"c":-0.008}
],
"ann": [
{"label":"8","lx":1473,"ly":0.342,"sx":1465,"sy":0.318,"tx":1402,"ty":0.279,"ang":134.4},
{"label":"193","lx":1294,"ly":0.242,"sx":1305,"sy":0.228,"tx":1352,"ty":0.187,"ang":55.2},
{"label":"192","lx":1277,"ly":0.197,"sx":1299,"sy":0.179,"tx":1350,"ty":0.137,"ang":53.8},
{"label":"176","lx":1196,"ly":0.173,"sx":1230,"sy":0.162,"tx":1298,"ty":0.138,"ang":30.4},
{"label":"186","lx":1464,"ly":0.131,"sx":1428,"sy":0.115,"tx":1343,"ty":0.077,"ang":143.4},
{"label":"115","lx":1046,"ly":0.081,"sx":1057,"sy":0.063,"tx":1112,"ty":0.02,"ang":52.3},
{"label":"54","lx":1879,"ly":0.077,"sx":1871,"sy":0.063,"tx":1831,"ty":0.02,"ang":119.4}
],
"vl": [{"x":744},{"x":1383}],
"genes": [
{"gene":"P8","start":284,"end":744},
{"gene":"P12","start":744,"end":1383},
{"gene":"P9","start":1383,"end":1652},
{"gene":"P5","start":1652,"end":2335}
]
},
"vconcat": [
{
"width": 852, "height": 287,
"title": {"text":"phi6-WT","anchor":"end","frame":"group","baseline":"alphabetic","offset":-12,"dx":11,"fontSize":25.5,"fontWeight":"normal","color":"#595959","font":"Liberation Sans"},
"layer": [
{"data":{"name":"s"},"mark":{"type":"line","color":"#5f5f5f","strokeWidth":1.6},
 "encoding":{
  "x":{"field":"x","type":"quantitative","scale":{"domain":[0,2950],"nice":false,"zero":false},"axis":null},
  "y":{"field":"a","type":"quantitative","scale":{"domain":[-0.3,0.3],"nice":false},
   "axis":{"title":null,"values":[-0.3,-0.2,-0.1,0,0.1,0.2,0.3],"labelExpr":"datum.value == 0 ? '0' : (datum.value < 0 ? '-' + format(-datum.value, '.1f') : format(datum.value, '.1f'))","ticks":false,"grid":false,"domainColor":"#333333","domainWidth":2.5,"labelFontSize":16,"labelColor":"#595959","labelPadding":14}}}},
{"data":{"name":"vl"},"mark":{"type":"rule","color":"#4e8b2f","strokeWidth":5,"strokeDash":[5,7]},
 "encoding":{"x":{"field":"x","type":"quantitative","axis":null},
  "y":{"datum":0.29,"type":"quantitative"},"y2":{"datum":-0.363}}},
{"data":{"name":"vl"},"mark":{"type":"square","color":"#4e8b2f","size":49,"opacity":1},
 "encoding":{"x":{"field":"x","type":"quantitative","axis":null},"y":{"datum":0,"type":"quantitative"}}},
{"data":{"name":"ann"},"mark":{"type":"rule","color":"#555555","strokeWidth":1.4},
 "encoding":{"x":{"field":"sx","type":"quantitative","axis":null},"x2":{"field":"tx"},"y":{"field":"sy","type":"quantitative"},"y2":{"field":"ty"}}},
{"data":{"name":"ann"},"mark":{"type":"point","shape":"M-1,-0.7L0,0L-1,0.7","filled":false,"color":"#555555","strokeWidth":1.4,"size":144,"opacity":1},
 "encoding":{"x":{"field":"tx","type":"quantitative","axis":null},"y":{"field":"ty","type":"quantitative"},"angle":{"field":"ang","type":"quantitative","scale":null}}},
{"data":{"name":"ann"},"mark":{"type":"text","color":"#595959","fontSize":14,"align":"center","baseline":"middle"},
 "encoding":{"x":{"field":"lx","type":"quantitative","axis":null},"y":{"field":"ly","type":"quantitative"},"text":{"field":"label"}}}
]
},
{
"width": 852, "height": 288,
"title": {"text":"phi6-E8G","anchor":"end","frame":"group","baseline":"alphabetic","offset":-43,"dx":13,"fontSize":25.5,"fontWeight":"normal","color":"#595959","font":"Liberation Sans"},
"layer": [
{"data":{"name":"s"},"mark":{"type":"line","color":"#5f5f5f","strokeWidth":1.6},
 "encoding":{
  "x":{"field":"x","type":"quantitative","scale":{"domain":[0,2950],"nice":false,"zero":false},"axis":null},
  "y":{"field":"b","type":"quantitative","scale":{"domain":[-0.3,0.3],"nice":false},
   "axis":{"title":"Change in Shannon entropy","titleFontSize":32.5,"titleFontWeight":"normal","titleColor":"#595959","titlePadding":16,"titleY":138,"values":[-0.3,-0.2,-0.1,0,0.1,0.2,0.3],"labelExpr":"datum.value == 0 ? '0' : (datum.value < 0 ? '-' + format(-datum.value, '.1f') : format(datum.value, '.1f'))","ticks":false,"grid":false,"domainColor":"#333333","domainWidth":2.5,"labelFontSize":16,"labelColor":"#595959","labelPadding":14}}}},
{"data":{"name":"vl"},"mark":{"type":"rule","color":"#4e8b2f","strokeWidth":5,"strokeDash":[5,7]},
 "encoding":{"x":{"field":"x","type":"quantitative","axis":null},
  "y":{"datum":0.3,"type":"quantitative"},"y2":{"datum":-0.3625}}},
{"data":{"name":"vl"},"mark":{"type":"square","color":"#4e8b2f","size":49,"opacity":1},
 "encoding":{"x":{"field":"x","type":"quantitative","axis":null},"y":{"datum":0,"type":"quantitative"}}}
]
},
{
"width": 852, "height": 289,
"title": {"text":"phi6-G515S","anchor":"end","frame":"group","baseline":"alphabetic","offset":6,"dx":12,"fontSize":25.5,"fontWeight":"normal","color":"#595959","font":"Liberation Sans"},
"layer": [
{"data":{"name":"s"},"mark":{"type":"line","color":"#5f5f5f","strokeWidth":1.6},
 "encoding":{
  "x":{"field":"x","type":"quantitative","scale":{"domain":[0,2950],"nice":false,"zero":false},"axis":null},
  "y":{"field":"c","type":"quantitative","scale":{"domain":[-0.3,0.3],"nice":false},
   "axis":{"title":null,"values":[-0.3,-0.2,-0.1,0,0.1,0.2,0.3],"labelExpr":"datum.value == 0 ? '0' : (datum.value < 0 ? '-' + format(-datum.value, '.1f') : format(datum.value, '.1f'))","ticks":false,"grid":false,"domainColor":"#333333","domainWidth":2.5,"labelFontSize":16,"labelColor":"#595959","labelPadding":14}}}},
{"data":{"name":"genes"},"mark":{"type":"rect","fill":"#aba7a6","stroke":"#777777","strokeWidth":2},
 "encoding":{"x":{"field":"start","type":"quantitative","axis":null},"x2":{"field":"end"},"y":{"datum":-0.3104,"type":"quantitative"},"y2":{"datum":-0.3623}}},
{"data":{"name":"genes"},"transform":[{"calculate":"(datum.start + datum.end) / 2","as":"mid"}],
 "mark":{"type":"text","color":"#666666","fontSize":24,"align":"center","baseline":"middle"},
 "encoding":{"x":{"field":"mid","type":"quantitative","axis":null},"y":{"datum":-0.3355,"type":"quantitative"},"text":{"field":"gene"}}},
{"data":{"name":"vl"},"mark":{"type":"rule","color":"#4e8b2f","strokeWidth":5,"strokeDash":[5,7]},
 "encoding":{"x":{"field":"x","type":"quantitative","axis":null},
  "y":{"datum":0.3,"type":"quantitative"},"y2":{"datum":-0.329}}},
{"data":{"name":"vl"},"mark":{"type":"square","color":"#4e8b2f","size":49,"opacity":1},
 "encoding":{"x":{"field":"x","type":"quantitative","axis":null},"y":{"datum":0,"type":"quantitative"}}}
]
}
]
}
